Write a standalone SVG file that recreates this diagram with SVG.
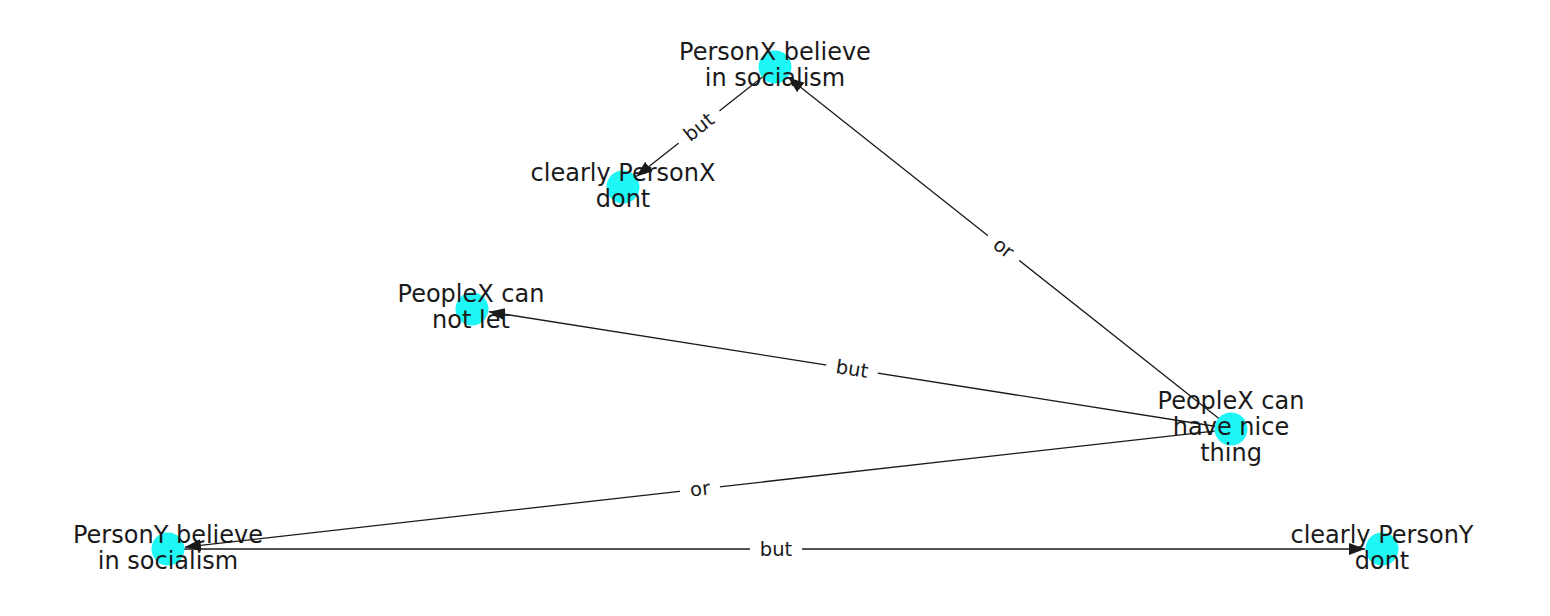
<svg xmlns="http://www.w3.org/2000/svg" width="1550" height="616" viewBox="0 0 1550 616">
<style>
.edge{stroke:#1a1a1a;stroke-width:1.3;fill:none;marker-end:url(#arr)}
.node circle{fill:#1ff7f7}
.node text{font-family:"DejaVu Sans",sans-serif;font-size:24px;fill:#1a1a1a;text-anchor:middle}
.lbl text{font-family:"DejaVu Sans",sans-serif;font-size:19.5px;fill:#1a1a1a;text-anchor:middle;dominant-baseline:central}
.lbl rect{fill:#fff}
</style>
<defs>
<marker id="arr" markerUnits="userSpaceOnUse" markerWidth="17" markerHeight="13" refX="16" refY="6" orient="auto">
<path d="M0,0 L16,6 L0,12 z" fill="#1a1a1a"/>
</marker>
</defs>
<rect width="1550" height="616" fill="#fff"/>
<g id="edges">
<line class="edge" x1="762.4" y1="76.9" x2="636.3" y2="176.5"/>
<line class="edge" x1="1219.5" y1="419.1" x2="788.3" y2="77.6"/>
<line class="edge" x1="1216.2" y1="426.5" x2="488.8" y2="311.7"/>
<line class="edge" x1="1216.1" y1="430.8" x2="184.9" y2="547.1"/>
<line class="edge" x1="184" y1="549" x2="1365" y2="549"/>
<g class="lbl" transform="translate(699,127) rotate(-38.3)"><rect x="-26" y="-13" width="52" height="26"/><text>but</text></g>
<g class="lbl" transform="translate(1003.5,248) rotate(38.4)"><rect x="-20" y="-13" width="40" height="26"/><text>or</text></g>
<g class="lbl" transform="translate(852,369) rotate(8.97)"><rect x="-26" y="-13" width="52" height="26"/><text>but</text></g>
<g class="lbl" transform="translate(700,489) rotate(-6.43)"><rect x="-20" y="-13" width="40" height="26"/><text>or</text></g>
<g class="lbl" transform="translate(776,549)"><rect x="-26" y="-13" width="52" height="26"/><text>but</text></g>
</g>
<g id="n1" class="node"><circle cx="775" cy="67" r="16.5"/><text x="775" y="60">PersonX believe<tspan x="775" y="86">in socialism</tspan></text></g>
<g id="n2" class="node"><circle cx="623" cy="187" r="16.5"/><text x="623" y="181">clearly PersonX<tspan x="623" y="207">dont</tspan></text></g>
<g id="n3" class="node"><circle cx="472" cy="309" r="16.5"/><text x="471" y="302">PeopleX can<tspan x="471" y="328">not let</tspan></text></g>
<g id="n4" class="node"><circle cx="1231" cy="429" r="16.5"/><text x="1231" y="409">PeopleX can<tspan x="1231" y="435">have nice</tspan><tspan x="1231" y="461">thing</tspan></text></g>
<g id="n5" class="node"><circle cx="168" cy="549" r="16.5"/><text x="168" y="543">PersonY believe<tspan x="168" y="569">in socialism</tspan></text></g>
<g id="n6" class="node"><circle cx="1382" cy="549" r="16.5"/><text x="1382" y="543">clearly PersonY<tspan x="1382" y="569">dont</tspan></text></g>
</svg>
